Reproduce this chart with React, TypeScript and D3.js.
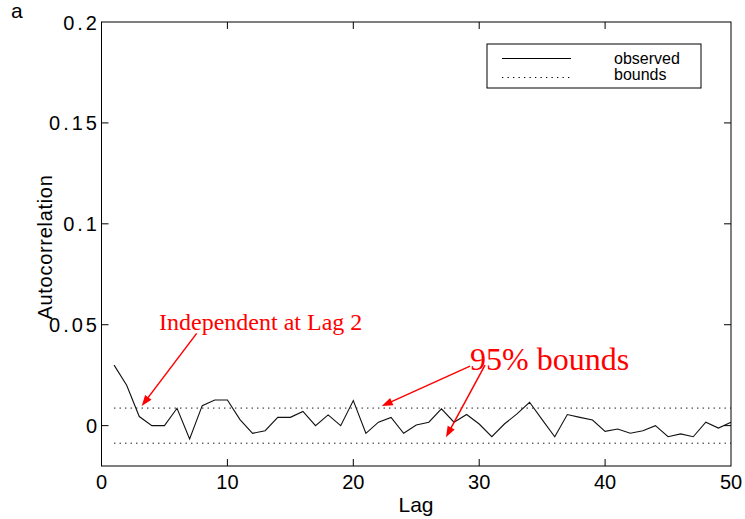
import React from "react";
import * as d3 from "d3";

const lags: number[] = d3.range(1, 51);
const acf: number[] = [
  0.030, 0.020, 0.0045, 0, 0, 0.0086, -0.0066, 0.0099, 0.0127, 0.0127,
  0.003, -0.0038, -0.0025, 0.0041, 0.0041, 0.007, 0, 0.0053, 0, 0.0124,
  -0.0038, 0.0017, 0.0041, -0.0038, 0.0003, 0.0017, 0.0083, 0.0017, 0.0055, 0.0008,
  -0.0055, 0.0008, 0.0058, 0.0116, 0.003, -0.0055, 0.0055, 0.0041, 0.0028, -0.0028,
  -0.0017, -0.0038, -0.0025, 0, -0.0055, -0.0041, -0.0055, 0.0017, -0.0012, 0.0017,
];
const bound = 0.0087;
const xTicks = [0, 10, 20, 30, 40, 50];
const yTicks = [0, 0.05, 0.1, 0.15, 0.2];
const yTickLabels = ["0", "0.05", "0.1", "0.15", "0.2"];
const legendLabels = ["observed", "bounds"];

// annotation arrows in data coordinates: [fromLag, fromVal, toLag, toVal]
const arrows: [number, number, number, number][] = [
  [7.56, 0.0457, 3.19, 0.0097],
  [29.27, 0.0295, 22.26, 0.0097],
  [30.46, 0.030, 27.36, -0.0058],
];

const W = 745;
const H = 519;

export default function App() {
  const x = d3.scaleLinear().domain([0, 50]).range([101.5, 731]);
  const y = d3.scaleLinear().domain([-0.02, 0.2]).range([466, 22]);
  const line = d3
    .line<number>()
    .x((_, i) => x(lags[i]))
    .y((d) => y(d));

  const x0 = x.range()[0];
  const x1 = x.range()[1];
  const yb = y.range()[0];
  const yt = y.range()[1];
  const tickLen = 7;

  const arrowHead = (a: [number, number, number, number]) => {
    const sx = x(a[0]), sy = y(a[1]), tx = x(a[2]), ty = y(a[3]);
    const ang = Math.atan2(ty - sy, tx - sx);
    const L = 11, Wd = 4;
    const bx = tx - L * Math.cos(ang), by = ty - L * Math.sin(ang);
    const px = -Math.sin(ang) * Wd, py = Math.cos(ang) * Wd;
    return {
      line: [sx, sy, bx + 2 * Math.cos(ang), by + 2 * Math.sin(ang)],
      poly: `${tx},${ty} ${bx + px},${by + py} ${bx - px},${by - py}`,
    };
  };

  return (
    <svg
      width={W}
      height={H}
      style={{ position: "absolute", left: 0, top: 0, background: "#fff" }}
      fontFamily="'Liberation Sans', Arial, sans-serif"
    >
      <rect x={0} y={0} width={W} height={H} fill="#fff" />
      {/* panel letter */}
      <text x={11} y={18} fontSize={21} fill="#000">a</text>

      {/* bounds */}
      {[bound, -bound].map((b, i) => (
        <line
          key={i}
          x1={x(1)}
          x2={x1}
          y1={y(b)}
          y2={y(b)}
          stroke="#000"
          strokeWidth={1}
          strokeDasharray="1.3 4.2"
        />
      ))}

      {/* observed line */}
      <path d={line(acf) || ""} fill="none" stroke="#111" strokeWidth={1.1} />

      {/* axes box */}
      <rect x={x0} y={yt} width={x1 - x0} height={yb - yt} fill="none" stroke="#000" strokeWidth={1} />

      {/* x ticks */}
      {xTicks.map((t) => (
        <g key={"x" + t}>
          {t > 0 && t < 50 && (
            <>
              <line x1={x(t)} x2={x(t)} y1={yb} y2={yb - tickLen} stroke="#000" />
              <line x1={x(t)} x2={x(t)} y1={yt} y2={yt + tickLen} stroke="#000" />
            </>
          )}
          <text x={x(t)} y={489} fontSize={20} textAnchor="middle" fill="#000">
            {t}
          </text>
        </g>
      ))}

      {/* y ticks */}
      {yTicks.map((t, i) => (
        <g key={"y" + t}>
          {t > 0 && t < 0.2 && (
            <>
              <line x1={x0} x2={x0 + tickLen} y1={y(t)} y2={y(t)} stroke="#000" />
              <line x1={x1} x2={x1 - tickLen} y1={y(t)} y2={y(t)} stroke="#000" />
            </>
          )}
          {t === 0 && (
            <>
              <line x1={x0} x2={x0 + tickLen} y1={y(t)} y2={y(t)} stroke="#000" />
              <line x1={x1} x2={x1 - tickLen} y1={y(t)} y2={y(t)} stroke="#000" />
            </>
          )}
          <text
            x={100}
            y={y(t) + 7.5}
            fontSize={20}
            textAnchor="end"
            letterSpacing={3}
            fill="#000"
          >
            {yTickLabels[i]}
          </text>
        </g>
      ))}

      {/* axis labels */}
      <text x={416} y={512} fontSize={21} textAnchor="middle" fill="#000">
        Lag
      </text>
      <text
        transform={`translate(52,${247}) rotate(-90)`}
        fontSize={20}
        letterSpacing={0.7}
        textAnchor="middle"
        fill="#000"
      >
        Autocorrelation
      </text>

      {/* legend */}
      <rect x={487} y={44} width={214} height={44} fill="#fff" stroke="#000" strokeWidth={1} />
      <line x1={502} x2={571} y1={58.5} y2={58.5} stroke="#000" strokeWidth={1.1} />
      <line x1={502} x2={571} y1={77.5} y2={77.5} stroke="#000" strokeWidth={1} strokeDasharray="1.3 4.2" />
      <text x={614} y={64} fontSize={16} fill="#000">{legendLabels[0]}</text>
      <text x={614} y={80} fontSize={16} fill="#000">{legendLabels[1]}</text>

      {/* annotations */}
      <text
        x={x(4.57)}
        y={y(0.0476)}
        fontSize={24}
        fill="#ff0000"
        fontFamily="'Liberation Serif', 'Times New Roman', serif"
      >
        Independent at Lag 2
      </text>
      <text
        x={x(29.27)}
        y={y(0.0276)}
        fontSize={32}
        fill="#ff0000"
        fontFamily="'Liberation Serif', 'Times New Roman', serif"
      >
        95% bounds
      </text>
      {arrows.map((a, i) => {
        const h = arrowHead(a);
        return (
          <g key={"a" + i}>
            <line
              x1={h.line[0]}
              y1={h.line[1]}
              x2={h.line[2]}
              y2={h.line[3]}
              stroke="#ff0000"
              strokeWidth={1.5}
            />
            <polygon points={h.poly} fill="#ff0000" />
          </g>
        );
      })}
    </svg>
  );
}
